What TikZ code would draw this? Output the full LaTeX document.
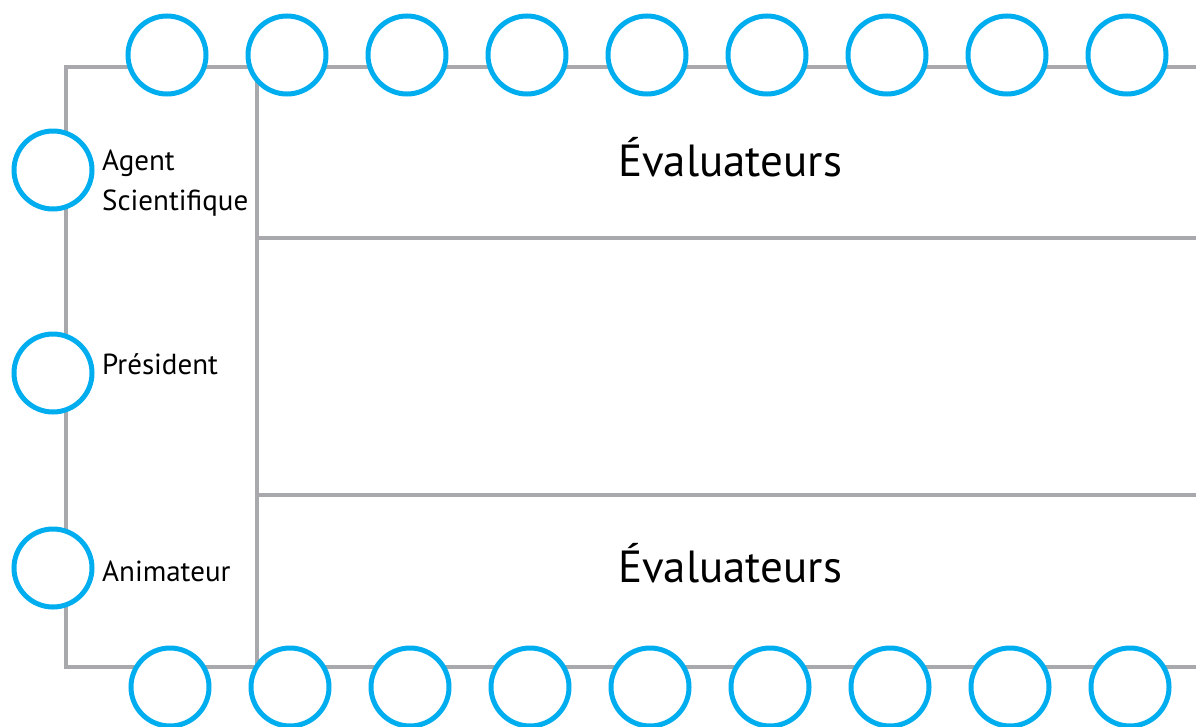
\documentclass[tikz,border=0pt]{standalone}
\usepackage{fontspec}
\setmainfont{PT Sans}
\usepackage{tikz}
\usetikzlibrary{positioning,calc}
\definecolor{framegray}{HTML}{A7A9AC}
\definecolor{seatblue}{HTML}{00AEEF}
\tikzset{seat/.style={draw=seatblue,line width=5pt,fill=white,circle,minimum size=78pt,inner sep=0pt},
  frame/.style={draw=framegray,line width=4pt},
  role/.style={anchor=west,font=\fontsize{29}{40}\selectfont,align=left,inner sep=0pt},
  jury/.style={font=\fontsize{45}{50}\selectfont,inner sep=0pt}}

\begin{document}
\begin{tikzpicture}[x=1pt,y=-1pt]
\useasboundingbox (0,0) rectangle (1196,726);
% table
\draw[frame] (1200,67) -- (66,67) -- (66,667) -- (1200,667);
\draw[frame] (257,67) -- (257,667);
\draw[frame] (257,238) -- (1200,238);
\draw[frame] (257,495) -- (1200,495);
% seats
\foreach \i in {0,...,8}{
  \node[seat] (top\i) at (167+120*\i,55) {};
  \node[seat] (bot\i) at (170+120*\i,687) {};
}
\node[seat] (sci) at (53,170) {};
\node[seat] (pres) at (53,373) {};
\node[seat] (anim) at (53,568) {};
% labels
\node[role] (scilab) at (102,183) {Agent\\Scientifique};
\node[role] (preslab) at (102,364) {Président};
\node[role] (animlab) at (102,571) {Animateur};
\node[jury] (evaltop) at (730,157) {Évaluateurs};
\node[jury] (evalbot) at (730,563) {Évaluateurs};
\end{tikzpicture}
\end{document}
